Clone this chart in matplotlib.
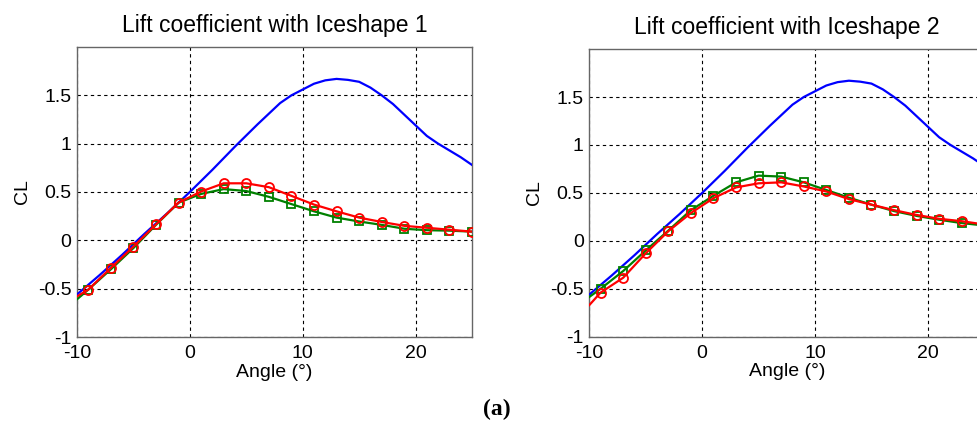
import matplotlib.pyplot as plt

plt.rcParams['font.family'] = ['Liberation Sans', 'DejaVu Sans']
plt.rcParams['axes.unicode_minus'] = False

# clean airfoil lift curve (same on both panels)
clean_angle = [-10, -8, -6, -4, -2, 0, 2, 4, 6, 8, 9, 10, 11, 12, 13, 14,
               15, 16, 17, 18, 19, 20, 21, 22, 23, 24, 25]
clean_cl = [-0.56, -0.36, -0.15, 0.07, 0.28, 0.50, 0.73, 0.97, 1.20, 1.42,
            1.50, 1.56, 1.62, 1.655, 1.67, 1.66, 1.64, 1.58, 1.50, 1.41,
            1.30, 1.19, 1.08, 1.00, 0.93, 0.86, 0.78]

# iced results, first point is -10, markers sit on the odd angles
ice_angle = [-10, -9, -7, -5, -3, -1, 1, 3, 5, 7, 9, 11, 13, 15, 17, 19, 21, 23, 25]

green_1 = [-0.61, -0.51, -0.30, -0.08, 0.16, 0.39, 0.48, 0.53, 0.51, 0.45,
           0.375, 0.30, 0.235, 0.195, 0.16, 0.12, 0.105, 0.10, 0.09]
red_1 = [-0.58, -0.51, -0.285, -0.065, 0.165, 0.39, 0.505, 0.59, 0.59, 0.55,
         0.46, 0.37, 0.30, 0.235, 0.19, 0.15, 0.13, 0.11, 0.09]

green_2 = [-0.585, -0.50, -0.315, -0.10, 0.107, 0.32, 0.47, 0.61, 0.68, 0.67,
           0.61, 0.53, 0.45, 0.377, 0.31, 0.26, 0.22, 0.185, 0.16]
red_2 = [-0.67, -0.54, -0.385, -0.13, 0.10, 0.29, 0.445, 0.557, 0.60, 0.61,
         0.567, 0.515, 0.435, 0.377, 0.32, 0.27, 0.23, 0.205, 0.17]

titles = ["Lift coefficient with Iceshape 1", "Lift coefficient with Iceshape 2"]
xticks = [-10, 0, 10, 20]
yticks = [-1, -0.5, 0, 0.5, 1, 1.5]
ytick_labels = ["-1", "-0.5", "0", "0.5", "1", "1.5"]

fig = plt.figure(figsize=(9.77, 4.23), dpi=100)
ax1 = fig.add_axes([0.0788, 0.2033, 0.4043, 0.6856])
# second panel runs past the right edge like in the original figure
ax2 = fig.add_axes([0.6032, 0.2040, 0.4043, 0.6800])

panels = [(ax1, green_1, red_1), (ax2, green_2, red_2)]
for i, (ax, g, r) in enumerate(panels):
    ax.plot(clean_angle, clean_cl, color='#0000ff', lw=1.6, zorder=3)
    ax.plot(ice_angle, g, color='#008000', lw=1.6, marker='s', ms=6,
            mfc='none', mew=1.3, markevery=list(range(1, len(ice_angle))), zorder=4)
    ax.plot(ice_angle, r, color='#ff0000', lw=1.6, marker='o', ms=6.5,
            mfc='none', mew=1.3, markevery=list(range(1, len(ice_angle))), zorder=5)
    ax.set_xlim(-10, 25)
    ax.set_ylim(-1, 2)
    ax.set_xticks(xticks)
    ax.set_yticks(yticks)
    ax.set_yticklabels(ytick_labels)
    ax.grid(True, color='black', ls=(0, (3, 3)), lw=0.8)
    for s in ax.spines.values():
        s.set_color('#666666')
        s.set_linewidth(1.0)
    ax.tick_params(direction='in', length=0, labelsize=14)
    ax.tick_params(axis='x', pad=6)
    ax.tick_params(axis='y', pad=4)
    ax.set_xlabel("Angle (°)", fontsize=14, labelpad=1)
    ax.set_ylabel("CL", fontsize=14, labelpad=5)
    ax.set_title(titles[i], fontsize=16.5, pad=11)

fig.text(0.5087, 0.008, "(a)", family='Liberation Serif', fontweight='bold',
         fontsize=17, ha='center', va='bottom')

fig.savefig("out.png", dpi=100)
